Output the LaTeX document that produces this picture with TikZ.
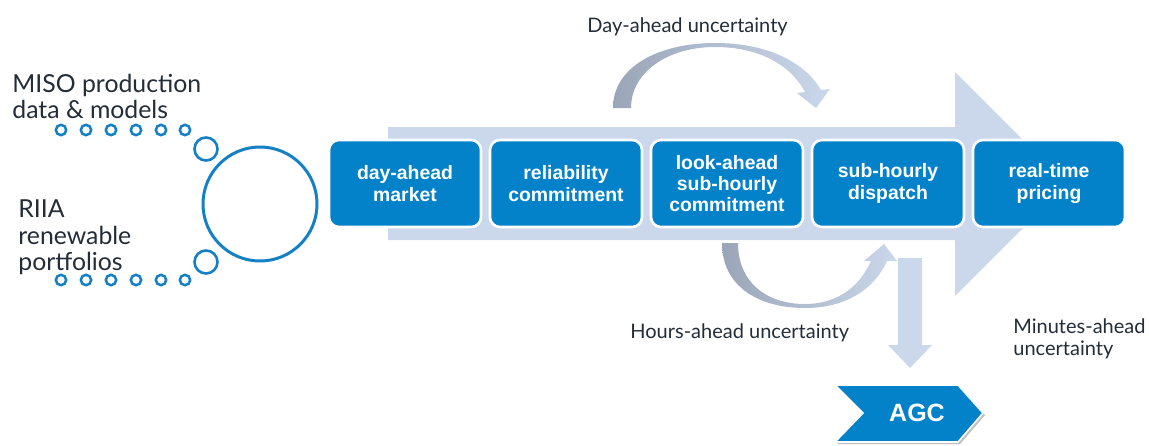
\documentclass[tikz,border=0pt]{standalone}
\usepackage{fontspec}
\setmainfont{Lato}
\newfontfamily\arialfont{Liberation Sans}
\definecolor{boxblue}{HTML}{0382CA}
\definecolor{lightarr}{HTML}{CBD7EA}
\definecolor{grayarr}{HTML}{9AA6B8}
\definecolor{circblue}{HTML}{1580C3}
\definecolor{txt}{HTML}{232C37}
\tikzset{
  stagebox/.style={rectangle, rounded corners=5pt, fill=boxblue, draw=white, line width=1.3pt,
    minimum width=76pt, minimum height=43.5pt, text=white, align=center,
    font=\arialfont\bfseries\fontsize{9.7}{10.6}\selectfont, inner sep=0pt},
  lbl/.style={text=txt, inner sep=0pt, font=\fontsize{10}{12}\selectfont},
  biglbl/.style={text=txt, inner sep=0pt, anchor=base west, font=\fontsize{12.4}{14}\selectfont},
  smallc/.style={circle, draw=circblue, line width=1.25pt, minimum size=5.2pt, inner sep=0pt},
  midc/.style={circle, draw=circblue, line width=1.3pt, minimum size=11.5pt, inner sep=0pt},
  bigc/.style={circle, draw=circblue, line width=1.5pt, minimum size=57pt, inner sep=0pt},
}
\begin{document}
\begin{tikzpicture}[x=0.5pt,y=-0.5pt]
\useasboundingbox (0,0) rectangle (1149,445);
% big process arrow
\fill[lightarr] (388,127) -- (955,127) -- (955,72) -- (1067,184) -- (955,296) -- (955,240) -- (388,240) -- cycle;
% day-ahead curved arrow
\shade[left color=grayarr, right color=lightarr]
  (613,108) .. controls (613,66) and (660,43) .. (715,43)
  .. controls (770,43) and (806,64) .. (821,90)
  -- (830,89) -- (816,108) -- (797,93) -- (805,92)
  .. controls (790,64) and (758,47) .. (715,47)
  .. controls (668,47) and (631,72) .. (631,108) -- cycle;
% hours-ahead curved arrow
\shade[left color=grayarr, right color=lightarr]
  (722,243) .. controls (722,286) and (758,308) .. (805,308)
  .. controls (845,308) and (874,290) .. (887,261)
  -- (897,261) -- (884,244) -- (864,261) -- (871,261)
  .. controls (858,290) and (834,304) .. (805,304)
  .. controls (766,304) and (738,282) .. (738,243) -- cycle;
% down arrow
\fill[lightarr] (898,258) -- (922,258) -- (922,345) -- (932,345) -- (910,368) -- (888,345) -- (898,345) -- cycle;
% stage boxes
\node[stagebox] (b1) at (405,183.5) {day-ahead\\market};
\node[stagebox] (b2) at (566,183.5) {reliability\\commitment};
\node[stagebox] (b3) at (727,183.5) {look-ahead\\sub-hourly\\commitment};
\node[stagebox] (b4) at (888,183.5) {sub-hourly\\dispatch};
\node[stagebox] (b5) at (1049,183.5) {real-time\\pricing};
% AGC chevron
\fill[black!25] (837,387) -- (960,387) -- (985,415) -- (960,444) -- (837,444) -- (865,415) -- cycle;
\filldraw[fill=boxblue, draw=white, line width=0.8pt] (835,385) -- (958,385) -- (983,413) -- (958,442) -- (835,442) -- (863,413) -- cycle;
\node[text=white, font=\arialfont\bfseries\fontsize{12.5}{14}\selectfont, inner sep=0pt] (agc) at (917,413) {AGC};
% labels
\node[lbl, anchor=base west] (dal) at (587,32) {Day-ahead uncertainty};
\node[lbl, anchor=base west] (hal) at (630,338) {Hours-ahead uncertainty};
\node[lbl, anchor=base west] (mal1) at (1013,333) {Minutes-ahead};
\node[lbl, anchor=base west] (mal2) at (1013,355) {uncertainty};
\node[biglbl] (m1) at (12,92) {MISO production};
\node[biglbl] (m2) at (12,118) {data \& models};
\node[biglbl] (r1) at (18,217) {RIIA};
\node[biglbl] (r2) at (18,244) {renewable};
\node[biglbl] (r3) at (18,270) {portfolios};
% circles
\foreach \i/\x in {1/61,2/86,3/111,4/136,5/161,6/185}{
  \node[smallc] (t\i) at (\x,130) {};
  \node[smallc] (u\i) at (\x,280) {};
}
\node[midc] (tm) at (206,149) {};
\node[midc] (um) at (206,262) {};
\node[bigc] (big) at (260,204) {};
\end{tikzpicture}
\end{document}
